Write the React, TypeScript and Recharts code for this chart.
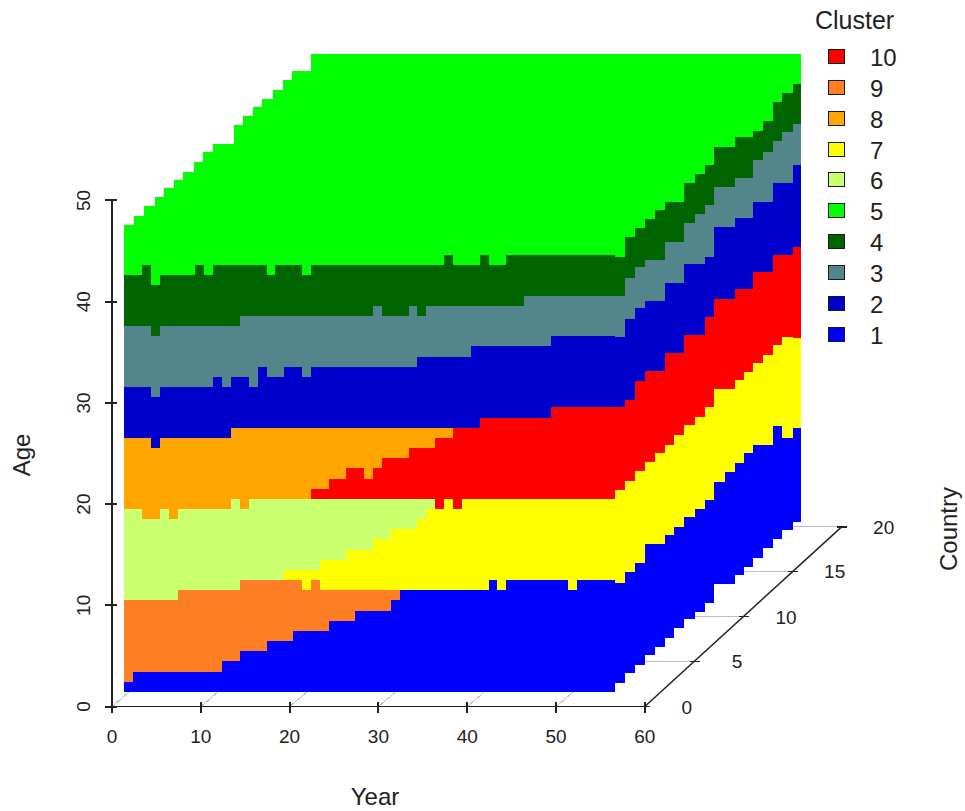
import React from 'react';
import { ComposedChart, Area, XAxis, YAxis, ReferenceLine, ReferenceDot, Legend } from 'recharts';

const FONT = '"Liberation Sans", Arial, sans-serif';
const INK = '#222222';

const clusterIds = [10, 9, 8, 7, 6, 5, 4, 3, 2, 1];
const clusterColors = ['#FF0000', '#FF7F24', '#FFA500', '#FFFF00', '#CAFF70', '#00FF00', '#006400', '#53868B', '#0000CD', '#0000FF'];
const colorOf = (id: number) => clusterColors[clusterIds.indexOf(id)];

const yearTicks = [0, 10, 20, 30, 40, 50, 60];
const ageTicks = [0, 10, 20, 30, 40, 50];
const countryTicks = [0, 5, 10, 15, 20];
const countryX = [60, 65.65, 71.17, 76.65, 82.17];
const countryY = [0, 4.45, 8.89, 13.34, 17.75];

// Front face: one entry per year, the age row at which each band ends.
const frontYears = [1,2,3,4,5,6,7,8,9,10,11,12,13,14,15,16,17,18,19,20,21,22,23,24,25,26,27,28,29,30,31,32,33,34,35,36,37,38,39,40,41,42,43,44,45,46,47,48,49,50,51,52,53,54,55];
const frontBase = [1,1,1,1,1,1,1,1,1,1,1,1,1,1,1,1,1,1,1,1,1,1,1,1,1,1,1,1,1,1,1,1,1,1,1,1,1,1,1,1,1,1,1,1,1,1,1,1,1,1,1,1,1,1,1];
const frontC1Top = [2,3,3,3,3,3,3,3,3,3,3,4,4,5,5,5,6,6,6,7,7,7,7,8,8,8,9,9,9,9,10,11,11,11,11,11,11,11,11,11,11,12,11,12,12,12,12,12,12,12,11,12,12,12,12];
const frontC9Top = [10,10,10,10,10,10,11,11,11,11,11,11,11,12,12,12,12,12,12,12,11,12,11,11,11,11,11,11,11,11,11,11,11,11,11,11,11,11,11,11,11,12,11,12,12,12,12,12,12,12,11,12,12,12,12];
const frontC7Top = [10,10,10,10,10,10,11,11,11,11,11,11,11,12,12,12,12,12,13,13,13,13,14,14,14,15,15,15,16,16,17,17,17,18,19,19,20,19,20,20,20,20,20,20,20,20,20,20,20,20,20,20,20,20,20];
const frontC6Top = [19,19,18,18,19,18,19,19,19,19,19,19,20,19,20,20,20,20,20,20,20,20,20,20,20,20,20,20,20,20,20,20,20,20,20,19,20,19,20,20,20,20,20,20,20,20,20,20,20,20,20,20,20,20,20];
const frontC10Top = [19,19,18,18,19,18,19,19,19,19,19,19,20,19,20,20,20,20,20,20,20,21,21,22,22,23,23,22,23,24,24,24,25,25,25,26,26,27,27,27,28,28,28,28,28,28,28,28,29,29,29,29,29,29,29];
const frontC8Top = [26,26,26,25,26,26,26,26,26,26,26,26,27,27,27,27,27,27,27,27,27,27,27,27,27,27,27,27,27,27,27,27,27,27,27,27,27,27,27,27,28,28,28,28,28,28,28,28,29,29,29,29,29,29,29];
const frontC2Top = [31,31,31,30,31,31,31,31,31,31,32,31,32,32,32,33,32,32,33,33,32,33,33,33,33,33,33,33,33,33,33,33,33,34,34,34,34,34,34,35,35,35,35,35,35,35,35,35,36,36,36,36,36,36,36];
const frontC3Top = [37,37,37,36,37,37,37,37,37,37,37,37,37,38,38,38,38,38,38,38,38,38,38,38,38,38,38,38,39,38,38,38,39,38,39,39,39,39,39,39,39,39,39,39,39,40,40,40,40,40,40,40,40,40,40];
const frontC4Top = [42,42,43,41,42,42,42,42,43,42,43,43,43,43,43,43,42,43,43,43,42,43,43,43,43,43,43,43,43,43,43,43,43,43,43,43,44,43,43,43,44,43,43,44,44,44,44,44,44,44,44,44,44,44,44];

// Right-hand face: one entry per country column, on the projected x scale, in age units.
const sideX = [56.64,57.77,58.9,60.02,61.15,62.27,63.29,64.41,65.65,66.78,67.79,69.03,70.16,71.17,72.18,73.31,74.44,75.45,76.69];
const sideEndX = 77.59;
const sideBase = [2.32,3.31,4.1,5.09,5.91,6.77,7.76,8.65,9.37,10.23,12.1,12.1,12.99,13.81,14.67,15.66,16.55,17.44,18.26];
const sideC1Top = [12.23,13.32,14.21,16.06,16.06,16.95,17.77,18.73,19.52,20.41,22.21,23.2,24.09,25.05,25.84,25.84,27.72,26.53,27.52];
const sideC7Top = [21.39,22.28,23.3,24.16,25.05,25.84,26.83,27.82,28.64,29.59,31.37,31.37,32.26,33.08,33.97,34.73,35.72,36.54,36.44];
const sideC10Top = [29.59,30.29,32.19,33.15,33.15,34.93,34.93,36.71,36.71,38.49,40.27,40.27,41.25,41.25,42.96,42.96,44.61,44.61,45.44];
const sideC2Top = [36.51,38.29,39.38,40.1,40.1,41.88,41.88,43.73,43.73,44.45,47.41,47.41,48.27,48.27,49.88,49.88,51.76,51.76,53.51];
const sideC3Top = [40.56,42.34,43.43,44.12,44.12,45.93,45.93,47.78,48.67,49.56,51.36,51.36,52.22,52.22,54,54.82,55.88,56.8,57.56];
const sideC4Top = [44.45,46.39,47.31,48.17,49.06,49.88,49.88,51.76,52.62,53.51,55.32,55.32,56.25,56.25,56.87,57.88,59.76,60.66,61.52];

// Upper outline of the top face.
const topX = [1.35,2.46,3.63,4.86,5.84,7.0,7.96,9.2,10.3,11.34,13.74,14.72,15.84,16.86,18.1,19.22,20.24,22.36,77.59];
const topAge = [47.58,48.47,49.46,50.35,51.24,52.03,52.85,53.83,54.79,55.58,57.46,58.35,59.24,60.03,60.92,61.91,62.83,64.48,64.48];
const topFloor = 35;

// One isolated cell of cluster 3 below a cell of cluster 2.
const islandYears = [15.4, 16.4];
const islandFrom = 31;
const islandTo = 32;

const rowToAge = (row: number) => 0.44 + 1.004 * row;

const rows: any[] = [
  ...frontYears.map((y, i) => ({
    x: y + 0.4,
    b0: rowToAge(frontBase[i]),
    b1: rowToAge(frontC1Top[i]),
    b9: rowToAge(frontC9Top[i]),
    b7: rowToAge(frontC7Top[i]),
    b6: rowToAge(frontC6Top[i]),
    b10: rowToAge(frontC10Top[i]),
    b8: rowToAge(frontC8Top[i]),
    b2: rowToAge(frontC2Top[i]),
    b3: rowToAge(frontC3Top[i]),
    b4: rowToAge(frontC4Top[i]),
  })),
  ...sideX.map((x, i) => ({
    x,
    b0: sideBase[i],
    b1: sideC1Top[i],
    b9: sideC1Top[i],
    b7: sideC7Top[i],
    b6: sideC7Top[i],
    b10: sideC10Top[i],
    b8: sideC10Top[i],
    b2: sideC2Top[i],
    b3: sideC3Top[i],
    b4: sideC4Top[i],
  })),
];
rows.push({ ...rows[rows.length - 1], x: sideEndX });

const topRows = topX.map((x, i) => ({ x, range: [topFloor, topAge[i]] }));
const islandRows = islandYears.map((x) => ({ x, range: [rowToAge(islandFrom), rowToAge(islandTo)] }));

const bands: { id: number; lo: string; hi: string }[] = [
  { id: 1, lo: 'b0', hi: 'b1' },
  { id: 9, lo: 'b1', hi: 'b9' },
  { id: 7, lo: 'b9', hi: 'b7' },
  { id: 6, lo: 'b7', hi: 'b6' },
  { id: 10, lo: 'b6', hi: 'b10' },
  { id: 8, lo: 'b10', hi: 'b8' },
  { id: 2, lo: 'b8', hi: 'b2' },
  { id: 3, lo: 'b2', hi: 'b3' },
  { id: 4, lo: 'b3', hi: 'b4' },
];

const XTick = (p: any) => (
  <g>
    <line x1={p.x} x2={p.x} y1={p.y - 5} y2={p.y + 6} stroke={INK} strokeWidth={2} />
    <text x={p.x} y={p.y + 36} textAnchor="middle" fontSize={19} fontFamily={FONT} fill={INK}>{p.payload.value}</text>
  </g>
);
const YTick = (p: any) => (
  <g>
    <line x1={p.x - 7} x2={p.x + 5} y1={p.y} y2={p.y} stroke={INK} strokeWidth={2} />
    <text
      x={p.x - 22}
      y={p.y}
      textAnchor="middle"
      fontSize={19}
      fontFamily={FONT}
      fill={INK}
      transform={`rotate(-90 ${p.x - 22} ${p.y})`}
    >
      {p.payload.value}
    </text>
  </g>
);

const ClusterLegend = () => (
  <div style={{ fontFamily: FONT, color: INK, position: 'relative', width: 150, height: 360 }}>
    <div style={{ position: 'absolute', left: 5, top: 5, fontSize: 25, lineHeight: '30px' }}>Cluster</div>
    {clusterIds.map((id, i) => (
      <div key={id} style={{ position: 'absolute', left: 0, top: 43 + i * 30.85, height: 30, width: 150 }}>
        <span
          style={{
            position: 'absolute',
            left: 18,
            top: 6,
            width: 15,
            height: 13,
            background: clusterColors[i],
            border: '1.5px solid #1a1a1a',
          }}
        />
        <span style={{ position: 'absolute', left: 60, top: 0, fontSize: 24, lineHeight: '30px' }}>{id}</span>
      </div>
    ))}
  </div>
);

export default function App() {
  return (
    <div style={{ position: 'absolute', left: 0, top: 0, width: 965, height: 811, background: '#fff', shapeRendering: 'crispEdges' }}>
      <ComposedChart width={965} height={811} data={rows} margin={{ top: 8.2, right: 53.8, bottom: 0, left: 0 }}>
        <XAxis
          type="number"
          dataKey="x"
          domain={[0, 90]}
          ticks={yearTicks}
          interval={0}
          allowDataOverflow
          axisLine={false}
          tickLine={false}
          tickSize={0}
          tickMargin={0}
          height={104.5}
          tick={XTick}
        />
        <YAxis
          type="number"
          domain={[0, 69]}
          ticks={ageTicks}
          interval={0}
          allowDataOverflow
          axisLine={false}
          tickLine={false}
          tickSize={0}
          tickMargin={0}
          width={112}
          tick={YTick}
        />
        <Legend
          layout="horizontal"
          align="center"
          verticalAlign="middle"
          wrapperStyle={{ left: 810, top: 0, width: 150, height: 360 }}
          content={ClusterLegend}
        />
        <Area data={topRows} dataKey="range" type="stepAfter" fill={colorOf(5)} fillOpacity={1} stroke="none" isAnimationActive={false} dot={false} activeDot={false} />
        {bands.map((b) => (
          <Area
            key={b.id}
            dataKey={(r: any) => [r[b.lo], r[b.hi]]}
            name={String(b.id)}
            type="stepAfter"
            fill={colorOf(b.id)}
            fillOpacity={1}
            stroke="none"
            isAnimationActive={false}
            dot={false}
            activeDot={false}
          />
        ))}
        <Area data={islandRows} dataKey="range" type="stepAfter" fill={colorOf(3)} fillOpacity={1} stroke="none" isAnimationActive={false} dot={false} activeDot={false} />

        {yearTicks.slice(0, 6).map((t) => (
          <ReferenceLine key={`g${t}`} segment={[{ x: t, y: 0 }, { x: t + 1.9, y: 1.4 }]} stroke="#bdbdbd" strokeWidth={1} ifOverflow="visible" />
        ))}
        <ReferenceLine segment={[{ x: 0, y: 0 }, { x: 60, y: 0 }]} stroke={INK} strokeWidth={1.5} ifOverflow="visible" />
        <ReferenceLine segment={[{ x: 0, y: 0 }, { x: 0, y: 50 }]} stroke={INK} strokeWidth={1.5} ifOverflow="visible" />
        <ReferenceLine
          segment={[{ x: countryX[0], y: countryY[0] }, { x: countryX[4], y: countryY[4] }]}
          stroke={INK}
          strokeWidth={1.5}
          ifOverflow="visible"
          style={{ shapeRendering: 'auto' }}
        />
        {countryTicks.map((t, i) => (
          <React.Fragment key={`c${t}`}>
            {i > 0 && (
              <ReferenceLine
                segment={[{ x: countryX[i - 1], y: countryY[i] }, { x: countryX[i], y: countryY[i] }]}
                stroke="#bdbdbd"
                strokeWidth={1}
                ifOverflow="visible"
              />
            )}
            <ReferenceLine
              segment={[{ x: countryX[i] - 0.56, y: countryY[i] }, { x: countryX[i] + 0.6, y: countryY[i] }]}
              stroke={INK}
              strokeWidth={1.5}
              ifOverflow="visible"
            />
            <ReferenceDot
              x={countryX[i]}
              y={countryY[i]}
              r={0}
              ifOverflow="visible"
              shape={(p: any) => (
                <text x={p.cx + 42} y={p.cy + 7} textAnchor="middle" fontSize={19} fontFamily={FONT} fill={INK}>{t}</text>
              )}
            />
          </React.Fragment>
        ))}
        <text x={375} y={805} textAnchor="middle" fontSize={24} fontFamily={FONT} fill={INK}>Year</text>
        <text x={30} y={455} textAnchor="middle" fontSize={24} fontFamily={FONT} fill={INK} transform="rotate(-90 30 455)">Age</text>
        <text x={957} y={529} textAnchor="middle" fontSize={24} fontFamily={FONT} fill={INK} transform="rotate(-90 957 529)">Country</text>
      </ComposedChart>
    </div>
  );
}
